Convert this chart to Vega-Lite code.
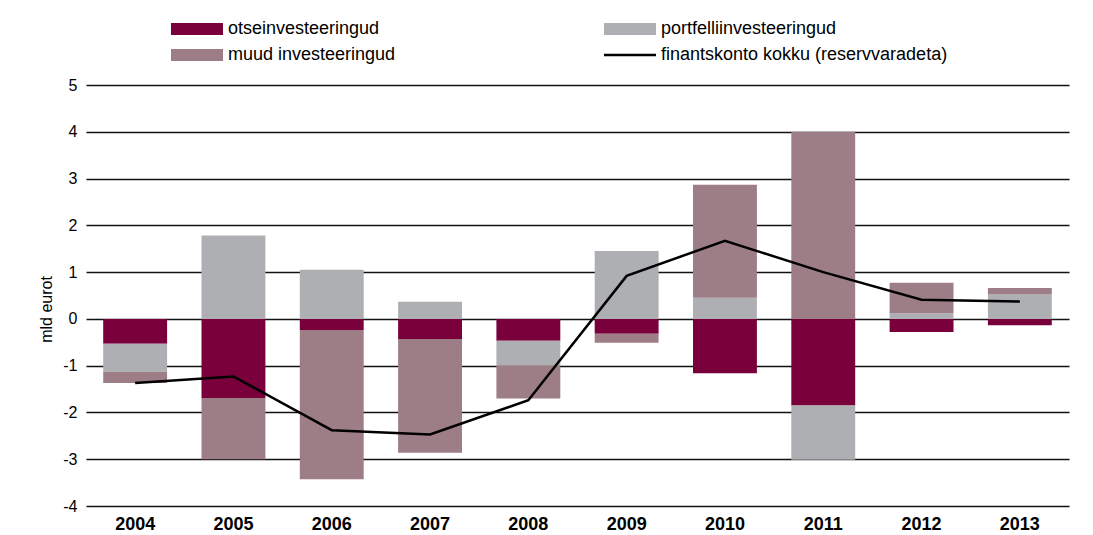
{
  "$schema": "https://vega.github.io/schema/vega-lite/v6.json",
  "width": 983,
  "height": 421,
  "autosize": {"type": "none"},
  "padding": {"left": 86, "top": 85, "right": 24, "bottom": 29},
  "background": "white",
  "config": {
    "font": "Liberation Sans",
    "view": {"stroke": null},
    "axis": {"labelColor": "black", "titleColor": "black", "labelFont": "Liberation Sans", "titleFont": "Liberation Sans"}
  },
  "datasets": {
    "bars": [
      {"year": "2004", "series": "otseinvesteeringud", "ord": 1, "value": -0.53},
      {"year": "2004", "series": "portfelliinvesteeringud", "ord": 2, "value": -0.60},
      {"year": "2004", "series": "muud investeeringud", "ord": 3, "value": -0.24},
      {"year": "2005", "series": "otseinvesteeringud", "ord": 1, "value": -1.69},
      {"year": "2005", "series": "portfelliinvesteeringud", "ord": 2, "value": 1.78},
      {"year": "2005", "series": "muud investeeringud", "ord": 3, "value": -1.31},
      {"year": "2006", "series": "otseinvesteeringud", "ord": 1, "value": -0.24},
      {"year": "2006", "series": "portfelliinvesteeringud", "ord": 2, "value": 1.05},
      {"year": "2006", "series": "muud investeeringud", "ord": 3, "value": -3.19},
      {"year": "2007", "series": "otseinvesteeringud", "ord": 1, "value": -0.43},
      {"year": "2007", "series": "portfelliinvesteeringud", "ord": 2, "value": 0.365},
      {"year": "2007", "series": "muud investeeringud", "ord": 3, "value": -2.43},
      {"year": "2008", "series": "otseinvesteeringud", "ord": 1, "value": -0.47},
      {"year": "2008", "series": "portfelliinvesteeringud", "ord": 2, "value": -0.52},
      {"year": "2008", "series": "muud investeeringud", "ord": 3, "value": -0.71},
      {"year": "2009", "series": "otseinvesteeringud", "ord": 1, "value": -0.32},
      {"year": "2009", "series": "portfelliinvesteeringud", "ord": 2, "value": 1.45},
      {"year": "2009", "series": "muud investeeringud", "ord": 3, "value": -0.19},
      {"year": "2010", "series": "otseinvesteeringud", "ord": 1, "value": -1.16},
      {"year": "2010", "series": "portfelliinvesteeringud", "ord": 2, "value": 0.45},
      {"year": "2010", "series": "muud investeeringud", "ord": 3, "value": 2.42},
      {"year": "2011", "series": "otseinvesteeringud", "ord": 1, "value": -1.85},
      {"year": "2011", "series": "portfelliinvesteeringud", "ord": 2, "value": -1.16},
      {"year": "2011", "series": "muud investeeringud", "ord": 3, "value": 4.0},
      {"year": "2012", "series": "otseinvesteeringud", "ord": 1, "value": -0.28},
      {"year": "2012", "series": "portfelliinvesteeringud", "ord": 2, "value": 0.12},
      {"year": "2012", "series": "muud investeeringud", "ord": 3, "value": 0.65},
      {"year": "2013", "series": "otseinvesteeringud", "ord": 1, "value": -0.135},
      {"year": "2013", "series": "portfelliinvesteeringud", "ord": 2, "value": 0.52},
      {"year": "2013", "series": "muud investeeringud", "ord": 3, "value": 0.14}
    ],
    "total": [
      {"year": "2004", "value": -1.37},
      {"year": "2005", "value": -1.23},
      {"year": "2006", "value": -2.38},
      {"year": "2007", "value": -2.47},
      {"year": "2008", "value": -1.74},
      {"year": "2009", "value": 0.92},
      {"year": "2010", "value": 1.67},
      {"year": "2011", "value": 1.0},
      {"year": "2012", "value": 0.41},
      {"year": "2013", "value": 0.37}
    ]
  },
  "layer": [
    {
      "data": {"name": "bars"},
      "mark": {"type": "bar"},
      "encoding": {
        "x": {
          "field": "year", "type": "nominal",
          "scale": {"paddingInner": 0.35, "paddingOuter": 0.175},
          "axis": {"title": null, "domain": false, "ticks": false, "grid": false, "labelAngle": 0, "labelFontSize": 18, "labelFontWeight": "bold", "labelPadding": 9}
        },
        "y": {
          "field": "value", "type": "quantitative", "stack": "zero",
          "scale": {"domain": [-4, 5], "nice": false},
          "axis": {"title": "mld eurot", "titleFontSize": 16, "titleFontWeight": "normal", "titlePadding": 8, "titleY": 224, "values": [-4, -3, -2, -1, 0, 1, 2, 3, 4, 5], "labelExpr": "datum.value + ''", "domain": false, "ticks": false, "labelFontSize": 16, "labelPadding": 9, "grid": true, "gridColor": "#111111", "gridWidth": 1.3, "gridOpacity": 1}
        },
        "color": {
          "field": "series", "type": "nominal",
          "scale": {
            "domain": ["otseinvesteeringud", "portfelliinvesteeringud", "muud investeeringud", "finantskonto kokku (reservvaradeta)"],
            "range": ["#7a003c", "#aeafb2", "#9e7e86", "#000000"]
          },
          "legend": {
            "title": null, "orient": "none", "direction": "horizontal", "legendX": 85, "legendY": -63,
            "columns": 2, "columnPadding": 208, "rowPadding": 8, "clipHeight": 14,
            "symbolSize": 2704, "symbolStrokeWidth": 0, "labelFontSize": 18, "labelFont": "Liberation Sans", "labelColor": "black", "labelOffset": 5, "labelLimit": 400, "padding": 0,
            "encode": {
              "symbols": {
                "update": {
                  "shape": {"signal": "datum.value === 'finantskonto kokku (reservvaradeta)' ? 'M-1,-0.05H1V0.05H-1Z' : 'M-1,-0.23H1V0.23H-1Z'"},
                  "fill": {"scale": "color", "field": "value"},
                  "stroke": {"value": "transparent"},
                  "opacity": {"value": 1}
                }
              }
            }
          }
        },
        "order": {"field": "ord", "type": "quantitative"}
      }
    },
    {
      "data": {"name": "total"},
      "mark": {"type": "line", "strokeWidth": 2.5},
      "encoding": {
        "x": {"field": "year", "type": "nominal"},
        "y": {"field": "value", "type": "quantitative"},
        "color": {"datum": "finantskonto kokku (reservvaradeta)", "type": "nominal"}
      }
    }
  ]
}
